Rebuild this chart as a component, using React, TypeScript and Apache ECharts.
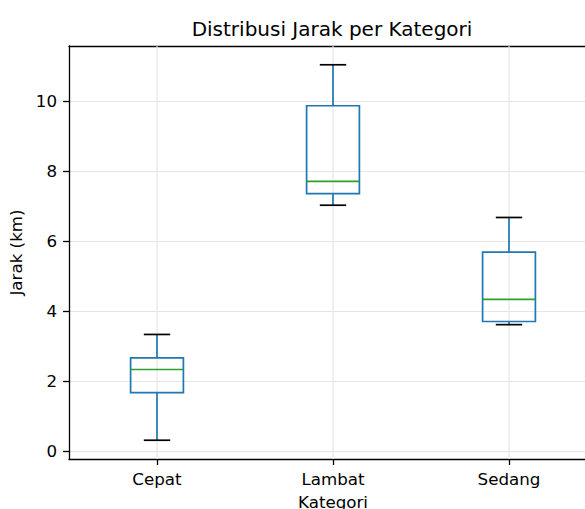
import React, { useEffect, useRef } from "react";
import * as echarts from "echarts";

const categories = ["Cepat", "Lambat", "Sedang"];
const whiskerLow = [0.31, 7.02, 3.61];
const q1 = [1.67, 7.35, 3.70];
const median = [2.33, 7.70, 4.33];
const q3 = [2.66, 9.86, 5.68];
const whiskerHigh = [3.33, 11.03, 6.67];
const yTicks = [0, 2, 4, 6, 8, 10];
const xTicks = [0, 1, 2];

const FONT = "DejaVu Sans";

export default function App() {
  const ref = useRef<HTMLDivElement>(null);
  useEffect(() => {
    if (!ref.current) return;
    const chart = echarts.init(ref.current, null, { renderer: "svg" });
    const lo = Math.min(...whiskerLow);
    const hi = Math.max(...whiskerHigh);
    const pad = (hi - lo) * 0.05;
    const data = categories.map((c, i) => [i, whiskerLow[i], q1[i], median[i], q3[i], whiskerHigh[i]]);
    chart.setOption({
      animation: false,
      backgroundColor: "#ffffff",
      title: {
        text: "Distribusi Jarak per Kategori",
        left: 332,
        top: 19,
        padding: 0,
        textAlign: "center",
        textStyle: { fontFamily: FONT, fontSize: 20, fontWeight: "normal", color: "#000" },
      },
      grid: { left: 69, top: 46, width: 528, height: 413, containLabel: false, outerBoundsMode: "none" },
      xAxis: [
        {
          type: "value",
          min: -0.5,
          max: categories.length - 0.5,
          name: "Kategori",
          nameLocation: "middle",
          nameGap: 34,
          nameTextStyle: { fontFamily: FONT, fontSize: 16.7, color: "#000" },
          axisLine: { show: true, onZero: false, lineStyle: { color: "#000", width: 1.3 } },
          axisTick: { show: true, length: 6, customValues: xTicks, lineStyle: { color: "#000", width: 1.3 } },
          axisLabel: {
            fontFamily: FONT,
            fontSize: 16.7,
            color: "#000",
            margin: 11,
            customValues: xTicks,
            formatter: (v: number) => categories[Math.round(v)] ?? "",
          },
          splitLine: { show: false },
        },
        {
          type: "value",
          min: -0.5,
          max: categories.length - 0.5,
          position: "top",
          axisLine: { show: true, onZero: false, lineStyle: { color: "#000", width: 1.3 } },
          axisTick: { show: false },
          axisLabel: { show: false },
          splitLine: { show: false },
        },
      ],
      yAxis: {
        type: "value",
        min: lo - pad,
        max: hi + pad,
        name: "Jarak (km)",
        nameLocation: "middle",
        nameGap: 41,
        nameTextStyle: { fontFamily: FONT, fontSize: 16.7, color: "#000" },
        axisLine: { show: true, onZero: false, lineStyle: { color: "#000", width: 1.3 } },
        axisTick: { show: true, length: 6, customValues: yTicks, lineStyle: { color: "#000", width: 1.3 } },
        axisLabel: { fontFamily: FONT, fontSize: 16.7, color: "#000", margin: 12, customValues: yTicks },
        splitLine: { show: true, lineStyle: { color: "#e6e6e6", width: 1.2 } },
      },
      series: [
        {
          type: "custom",
          xAxisIndex: 0,
          encode: { x: 0, y: [1, 2, 3, 4, 5] },
          data,
          renderItem: (params: any, api: any) => {
            const idx = api.value(0);
            const cs = params.coordSys;
            const band = api.size([1, 0])[0];
            const w = band * 0.3;
            const cw = w / 2;
            const pLow = api.coord([idx, api.value(1)]);
            const pQ1 = api.coord([idx, api.value(2)]);
            const pMed = api.coord([idx, api.value(3)]);
            const pQ3 = api.coord([idx, api.value(4)]);
            const pHigh = api.coord([idx, api.value(5)]);
            const cx = pMed[0];
            const blue = "#1f77b4";
            const lw = 1.7;
            return {
              type: "group",
              children: [
                {
                  type: "line",
                  shape: { x1: cx, y1: cs.y, x2: cx, y2: cs.y + cs.height },
                  style: { stroke: "#e6e6e6", lineWidth: 1.2 },
                },
                {
                  type: "line",
                  shape: { x1: cx, y1: pQ3[1], x2: cx, y2: pHigh[1] },
                  style: { stroke: blue, lineWidth: lw },
                },
                {
                  type: "line",
                  shape: { x1: cx, y1: pQ1[1], x2: cx, y2: pLow[1] },
                  style: { stroke: blue, lineWidth: lw },
                },
                {
                  type: "rect",
                  shape: { x: cx - w / 2, y: pQ3[1], width: w, height: pQ1[1] - pQ3[1] },
                  style: { fill: "none", stroke: blue, lineWidth: lw },
                },
                {
                  type: "line",
                  shape: { x1: cx - cw / 2, y1: pHigh[1], x2: cx + cw / 2, y2: pHigh[1] },
                  style: { stroke: "#000", lineWidth: lw },
                },
                {
                  type: "line",
                  shape: { x1: cx - cw / 2, y1: pLow[1], x2: cx + cw / 2, y2: pLow[1] },
                  style: { stroke: "#000", lineWidth: lw },
                },
                {
                  type: "line",
                  shape: { x1: cx - w / 2, y1: pMed[1], x2: cx + w / 2, y2: pMed[1] },
                  style: { stroke: "#2ca02c", lineWidth: lw },
                },
              ],
            };
          },
        },
      ],
    });
    return () => chart.dispose();
  }, []);
  return <div ref={ref} style={{ width: 585, height: 509, position: "absolute", left: 0, top: 0 }} />;
}
